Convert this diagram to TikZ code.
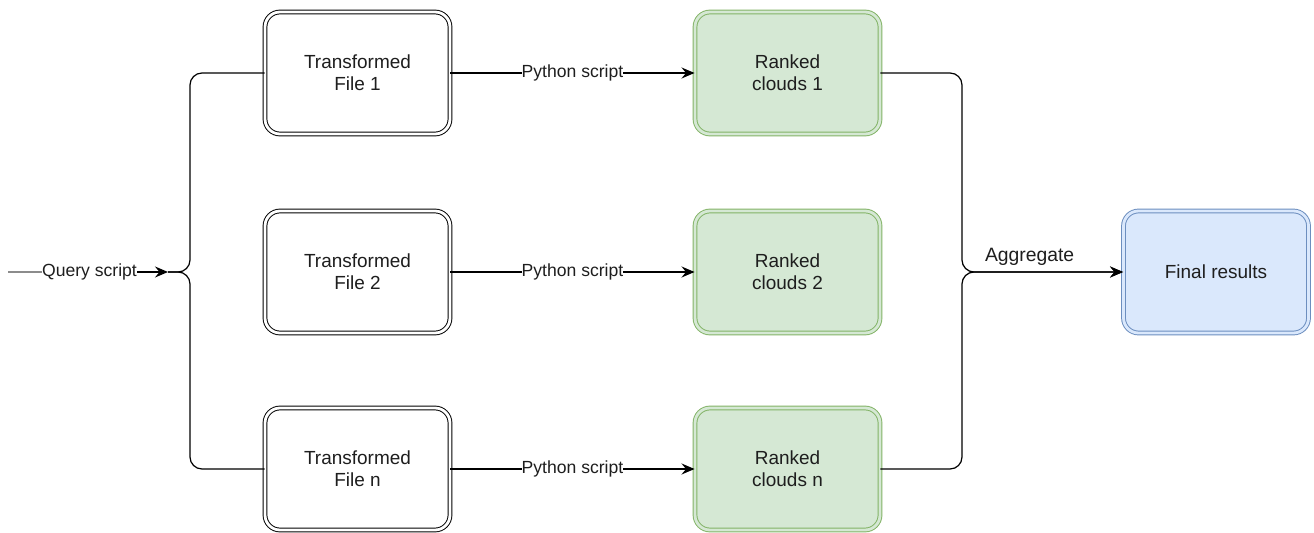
\documentclass[tikz,border=0pt]{standalone}
\usepackage{fontspec}
\setmainfont{Liberation Sans}
\usetikzlibrary{arrows.meta,positioning}
\definecolor{rcfill}{HTML}{D5E8D4}
\definecolor{rcborder}{HTML}{82B366}
\definecolor{frfill}{HTML}{DAE8FC}
\definecolor{frborder}{HTML}{6C8EBF}
\definecolor{txtgray}{RGB}{30,30,30}

\begin{document}
\begin{tikzpicture}[
  box/.style={rectangle, rounded corners=3mm, minimum width=3.7cm, minimum height=2.44cm, align=center, font=\fontsize{10.8}{12.6}\selectfont, text=txtgray, line width=0.55pt, double distance=1.6pt},
  tfbox/.style={box, draw=black, double=white, fill=white},
  rcbox/.style={box, draw=rcborder, double=rcfill, fill=rcfill},
  frbox/.style={box, draw=frborder, double=frfill, fill=frfill},
  link/.style={line width=0.7pt, black},
  arr/.style={link, -{Stealth[length=2.6mm, width=2.2mm, inset=0.9mm]}},
  elabel/.style={font=\fontsize{10}{12}\selectfont, text=txtgray, fill=white, inner sep=0pt}
]
\useasboundingbox (0,0) rectangle (26.28,-10.66);
% Boxes
\node[tfbox] (tf1) at (7.15,-1.46) {Transformed\\File 1};
\node[tfbox] (tf2) at (7.15,-5.44) {Transformed\\File 2};
\node[tfbox] (tfn) at (7.15,-9.38) {Transformed\\File n};
\node[rcbox] (rc1) at (15.75,-1.46) {Ranked\\clouds 1};
\node[rcbox] (rc2) at (15.75,-5.44) {Ranked\\clouds 2};
\node[rcbox] (rcn) at (15.75,-9.38) {Ranked\\clouds n};
\node[frbox] (final) at (24.32,-5.44) {Final results};
% Split and join points
\coordinate (qstart) at (0.16,-5.44);
\coordinate (hub) at (3.36,-5.44);
\coordinate (lsplit) at (3.8,-5.44);
\coordinate (rjoin) at (19.24,-5.44);
% Query script
\node[elabel] (qlabel) at (1.79,-5.44) {Query script};
\draw[link, black!45] (qstart) -- (qlabel.west);
\draw[arr] (qlabel.east) -- (hub);
\draw[link, rounded corners=2.4mm] (hub) -- (lsplit) |- (tf1.west);
\draw[link, rounded corners=2.4mm] (hub) -- (lsplit) |- (tfn.west);
% Python script
\foreach \i in {1,2,n}
  \draw[arr] (tf\i.east) -- node[elabel] {Python script} (rc\i.west);
% Aggregate
\draw[arr, rounded corners=2.4mm] (rc1.east) -| (rjoin) -- node[pos=0.42, above=1.2mm, font=\fontsize{11}{13}\selectfont, text=txtgray, inner sep=0pt] {Aggregate} (final.west);
\draw[arr, rounded corners=2.4mm] (rcn.east) -| (rjoin) -- (final.west);
\end{tikzpicture}
\end{document}
